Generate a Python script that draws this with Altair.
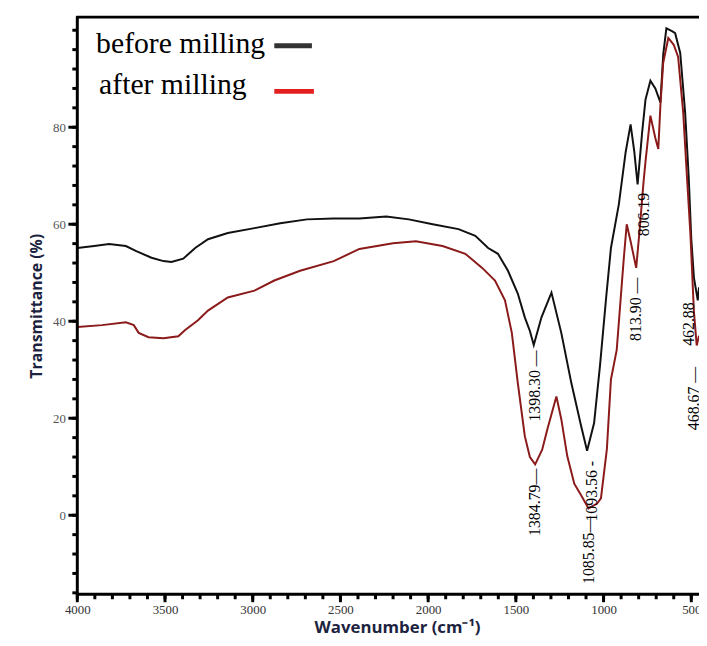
import altair as alt
import pandas as pd

# ---- data ----
wn_before = [4000, 3904, 3819, 3723, 3667, 3577, 3509, 3464, 3396, 3328, 3255, 3142, 2990, 2843,
             2691, 2538, 2392, 2239, 2110, 1974, 1827, 1731, 1658, 1602, 1545, 1489, 1449, 1420,
             1398, 1354, 1297, 1241, 1184, 1128, 1094, 1054, 1020, 985, 958, 913, 874, 846, 825,
             806, 780, 761, 733, 705, 676, 660, 642, 610, 592, 563, 535, 515, 500, 485, 463, 456]
t_before = [55.1, 55.5, 55.9, 55.5, 54.5, 53.1, 52.4, 52.2, 52.9, 55.1, 56.9, 58.2, 59.2, 60.2,
            61.0, 61.2, 61.2, 61.6, 61.0, 60.0, 59.0, 57.6, 55.1, 53.9, 50.4, 45.7, 40.8, 38.0,
            35.1, 40.8, 45.9, 37.6, 27.3, 18.4, 13.3, 19.0, 31.0, 45.0, 55.1, 64.1, 74.9, 80.6, 75.0,
            68.2, 79.0, 85.7, 89.6, 88.0, 85.1, 95.0, 100.4, 99.8, 99.4, 95.3, 83.0, 70.0, 57.0, 49.0, 44.3, 47.0]

wn_after = [4000, 3859, 3723, 3678, 3650, 3594, 3509, 3424, 3385, 3312, 3255, 3142, 2990, 2877,
            2730, 2538, 2392, 2200, 2070, 1918, 1788, 1692, 1619, 1562, 1523, 1489, 1449, 1420,
            1390, 1350, 1320, 1269, 1241, 1207, 1167, 1128, 1086, 1037, 1015, 981, 958, 925, 902,
            886, 868, 846, 814, 795, 772, 761, 733, 705, 688, 676, 660, 631, 600, 575, 546, 525,
            505, 485, 469, 456]
t_after = [38.8, 39.2, 39.8, 39.2, 37.6, 36.7, 36.5, 36.9, 38.2, 40.2, 42.2, 44.9, 46.3, 48.4,
           50.4, 52.4, 54.9, 56.1, 56.5, 55.5, 53.9, 51.0, 48.4, 44.3, 37.6, 27.3, 16.3, 12.0,
           10.5, 13.5, 17.8, 24.5, 19.8, 12.2, 6.5, 4.1, 1.4, 2.4, 3.5, 13.7, 28.0, 34.1, 44.9,
           52.4, 60.0, 56.5, 51.0, 58.6, 68.8, 72.9, 82.4, 77.8, 75.5, 84.5, 93.3, 98.4, 97.0,
           94.5, 83.0, 70.0, 58.0, 42.0, 35.0, 37.0]

series_names = ["before milling", "after milling"]
line_colors = ["#111111", "#8b1a1a"]

peak_labels = ["1398.30 —", "1384.79—", "1093.56 -", "1085.85—", "813.90 —", "806.19", "462.88", "468.67 —"]
peak_wn = [1393, 1393, 1068, 1083, 817, 772, 513, 485]
peak_t = [34.0, 9.6, 11.2, -0.3, 49.0, 66.5, 43.9, 30.6]

x_major = [4000, 3500, 3000, 2500, 2000, 1500, 1000, 500]
x_minor = [4000 - 100 * i for i in range(36)]
y_major = [0, 20, 40, 60, 80]
y_minor = [-16 + 4 * i for i in range(30)]

# ---- tables ----
spec = pd.concat([
    pd.DataFrame({"wn": wn_before, "t": t_before, "series": series_names[0]}),
    pd.DataFrame({"wn": wn_after, "t": t_after, "series": series_names[1]}),
])
peaks = pd.DataFrame({"wn": peak_wn, "t": peak_t, "label": peak_labels})
xmaj_df = pd.DataFrame({"wn": x_major})
xmin_df = pd.DataFrame({"wn": x_minor})
ymaj_df = pd.DataFrame({"t": y_major})
ymin_df = pd.DataFrame({"t": y_minor})
one = pd.DataFrame({"k": [0]})

W, H = 628, 583
x_scale = alt.Scale(domain=[4000, 456], nice=False, zero=False)
y_scale = alt.Scale(domain=[-16.3, 102.7], nice=False, zero=False)

title_color = "#1c2340"

lines = alt.Chart(spec).mark_line(strokeWidth=2, clip=True).encode(
    x=alt.X("wn:Q", scale=x_scale, axis=alt.Axis(
        orient="bottom", values=x_major, format="d", grid=False, ticks=False, domain=False,
        labelFont="Liberation Serif", labelFontSize=13, labelColor="#333333", labelPadding=9,
        labelFlush=False, labelOverlap=False,
        title="Wavenumber (cm⁻¹)", titleFont="Open Sans", titleFontWeight="bold",
        titleFontSize=17, titleColor=title_color, titlePadding=4, titleX=323)),
    y=alt.Y("t:Q", scale=y_scale, axis=alt.Axis(
        orient="left", values=y_major, format="d", grid=False, ticks=False, domain=False,
        labelFont="Liberation Serif", labelFontSize=13, labelColor="#555555", labelPadding=12,
        labelFlush=False, labelOverlap=False,
        title="Transmittance (%)", titleFont="Open Sans", titleFontWeight="bold",
        titleFontSize=16, titleColor=title_color, titlePadding=8)),
    color=alt.Color("series:N", scale=alt.Scale(domain=series_names, range=line_colors), legend=None),
    detail="series:N",
)

# tick marks drawn through the scales
xtick_min = alt.Chart(xmin_df).mark_rule(strokeWidth=3, color="black").encode(
    x=alt.X("wn:Q", scale=x_scale, axis=None), y=alt.value(H), y2=alt.value(H + 5))
xtick_maj = alt.Chart(xmaj_df).mark_rule(strokeWidth=3, color="black").encode(
    x=alt.X("wn:Q", scale=x_scale, axis=None), y=alt.value(H), y2=alt.value(H + 8))
ytick_min = alt.Chart(ymin_df).mark_rule(strokeWidth=3, color="black").encode(
    y=alt.Y("t:Q", scale=y_scale, axis=None), x=alt.value(-5), x2=alt.value(0))
ytick_maj = alt.Chart(ymaj_df).mark_rule(strokeWidth=3, color="black").encode(
    y=alt.Y("t:Q", scale=y_scale, axis=None), x=alt.value(-9), x2=alt.value(0))

peak_text = alt.Chart(peaks).mark_text(
    angle=270, align="right", baseline="middle", font="Liberation Serif", fontSize=16, color="black"
).encode(
    x=alt.X("wn:Q", scale=x_scale, axis=None),
    y=alt.Y("t:Q", scale=y_scale, axis=None),
    text="label:N",
)

# frame lines (top, left, bottom)
top_border = alt.Chart(one).mark_rule(strokeWidth=3, color="black").encode(
    x=alt.value(-1), x2=alt.value(W), y=alt.value(0))
left_border = alt.Chart(one).mark_rule(strokeWidth=3, color="black").encode(
    x=alt.value(0), y=alt.value(-1), y2=alt.value(H + 1))
bottom_border = alt.Chart(one).mark_rule(strokeWidth=3, color="black").encode(
    x=alt.value(-1), x2=alt.value(W), y=alt.value(H))

leg_text1 = alt.Chart(pd.DataFrame({"label": [series_names[0]]})).mark_text(
    align="left", baseline="alphabetic", font="Liberation Serif", fontSize=30, color="black"
).encode(x=alt.value(19), y=alt.value(36), text="label:N")
leg_text2 = alt.Chart(pd.DataFrame({"label": [series_names[1]]})).mark_text(
    align="left", baseline="alphabetic", font="Liberation Serif", fontSize=30, color="black"
).encode(x=alt.value(22), y=alt.value(78), text="label:N")
leg_line1 = alt.Chart(one).mark_rule(strokeWidth=5, color="#333333").encode(
    x=alt.value(199), x2=alt.value(237), y=alt.value(29))
leg_line2 = alt.Chart(one).mark_rule(strokeWidth=5, color="#e3201f").encode(
    x=alt.value(199), x2=alt.value(239), y=alt.value(75))

chart = alt.layer(
    lines, xtick_min, xtick_maj, ytick_min, ytick_maj, peak_text,
    top_border, left_border, bottom_border,
    leg_text1, leg_text2, leg_line1, leg_line2
).resolve_axis(x="independent", y="independent").properties(
    width=W, height=H,
    autosize=alt.AutoSizeParams(type="none"),
    padding={"left": 70, "top": 6, "right": 0, "bottom": 49},
).configure_view(stroke=None).configure(background="white")

chart.save("out.html", embed_options={"renderer": "svg", "actions": False})
